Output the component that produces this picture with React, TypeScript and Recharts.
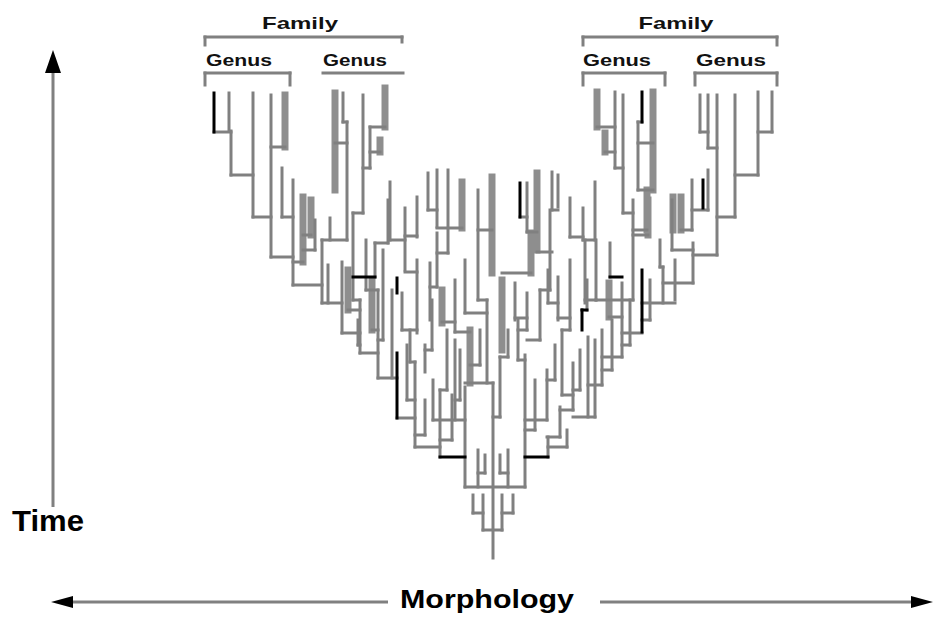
import { ComposedChart, XAxis, YAxis, ReferenceLine, ReferenceDot } from 'recharts';

type Seg = [number, number, number];

const W = 937;
const H = 618;

// vertical lineages, [x, top, bottom] in morphology / time units
const stems: Seg[] = [
  // left family
  [229, 93, 131], [231, 131, 175], [253, 93, 217], [271, 95, 257], [282, 168, 217],
  [293, 180, 285], [315, 220, 250], [322, 240, 303], [330, 218, 240], [342, 262, 333],
  [343, 93, 122], [347, 122, 240], [353, 213, 300], [360, 300, 353], [363, 95, 213],
  [366, 240, 290], [370, 127, 168], [375, 243, 277], [378, 290, 378], [388, 200, 243],
  [383, 250, 340], [390, 182, 240], [415, 362, 447], [425, 400, 435], [440, 390, 457],
  [447, 330, 390], [455, 340, 420], [465, 387, 487], [328, 265, 303], [358, 320, 345],
  [392, 290, 378],
  // centre, left half
  [405, 208, 270], [417, 197, 237], [428, 173, 210], [437, 170, 227], [448, 170, 253],
  [478, 190, 300], [437, 233, 287], [417, 260, 333], [430, 263, 320], [455, 280, 332],
  [465, 260, 313], [402, 293, 330], [410, 330, 362], [432, 300, 350], [425, 345, 372],
  [487, 300, 383], [480, 330, 365], [407, 345, 400], [433, 380, 420], [452, 395, 440],
  [460, 350, 400],
  // centre, bottom
  [493, 383, 558], [483, 495, 530], [502, 495, 530], [473, 495, 513], [513, 495, 513],
  [478, 450, 487], [485, 455, 473], [500, 455, 473], [508, 450, 487], [500, 357, 417],
  [508, 330, 357],
  // centre, right half
  [527, 183, 232], [552, 172, 210], [558, 175, 207], [550, 210, 290], [570, 198, 237],
  [583, 208, 240], [595, 182, 240], [585, 240, 303], [570, 260, 330], [515, 283, 320],
  [527, 293, 330], [548, 270, 303], [558, 277, 320], [587, 280, 310], [540, 290, 340],
  [518, 320, 360], [525, 355, 487], [547, 370, 420], [560, 407, 437], [573, 363, 410],
  [588, 337, 417], [548, 437, 457], [567, 430, 447], [602, 330, 385], [562, 330, 395],
  [535, 380, 430], [555, 345, 380], [580, 350, 390], [595, 340, 417], [612, 320, 370],
  // right family
  [615, 92, 168], [623, 95, 213], [638, 122, 190], [700, 95, 132], [708, 95, 148],
  [717, 95, 255], [735, 95, 217], [758, 92, 175], [772, 92, 132], [708, 170, 210],
  [692, 180, 230], [693, 243, 283], [663, 267, 303], [622, 283, 357], [610, 243, 277],
  [672, 200, 250], [633, 200, 300], [660, 240, 267], [596, 240, 300], [630, 300, 345],
  [650, 280, 320], [675, 260, 300],
];

// doubled lineages that read as one broad grey band
const heavyStems: Seg[] = [
  [285, 95, 147], [335, 93, 190], [385, 88, 127], [380, 140, 152], [303, 197, 262],
  [311, 200, 235], [348, 270, 310], [372, 280, 330],
  [462, 182, 228], [492, 177, 273], [442, 290, 323], [470, 330, 383],
  [537, 173, 250], [531, 233, 273], [502, 280, 350],
  [597, 92, 127], [605, 133, 152], [653, 92, 190], [647, 190, 230], [673, 197, 230],
  [681, 197, 230], [648, 200, 235], [609, 283, 317],
];

const blackStems: Seg[] = [
  [214, 93, 132], [397, 353, 418], [397, 278, 293], [520, 183, 217], [582, 310, 330],
  [642, 92, 122], [703, 180, 208], [642, 270, 332],
];

// horizontal joins, [time, left, right]
const joins: Seg[] = [
  // left family
  [132, 214, 231], [175, 231, 253], [217, 253, 271], [147, 271, 285], [257, 271, 293],
  [217, 282, 293], [262, 293, 303], [235, 303, 311], [250, 303, 315], [285, 293, 322],
  [240, 322, 347], [303, 322, 342], [300, 353, 360], [333, 342, 360], [353, 360, 378],
  [290, 366, 378], [243, 375, 388], [213, 353, 363], [122, 343, 347], [143, 335, 347],
  [168, 363, 370], [127, 370, 385], [152, 370, 380], [310, 348, 360], [330, 372, 378],
  [340, 378, 383], [378, 378, 397], [418, 397, 415], [447, 415, 440], [435, 415, 425],
  [390, 440, 447], [420, 433, 465], [345, 358, 360],
  // centre
  [240, 390, 405], [236, 405, 417], [210, 428, 437], [228, 437, 462], [253, 437, 448],
  [230, 478, 492], [272, 405, 417], [287, 430, 437], [322, 442, 455], [332, 455, 470],
  [313, 465, 487], [330, 402, 417], [362, 410, 415], [350, 425, 432], [300, 478, 487],
  [365, 470, 480], [383, 465, 493], [417, 493, 500], [357, 500, 508], [400, 407, 415],
  [440, 440, 452], [400, 455, 460],
  [487, 465, 525], [473, 478, 485], [473, 500, 508], [530, 483, 502], [513, 473, 483],
  [513, 502, 513],
  [217, 520, 527], [232, 527, 537], [210, 552, 558], [252, 537, 552], [237, 570, 583],
  [240, 583, 595], [290, 540, 550], [318, 515, 527], [303, 548, 558], [318, 558, 570],
  [340, 527, 540], [330, 518, 527], [360, 518, 525], [273, 502, 531], [330, 562, 570],
  [420, 525, 547], [437, 547, 560], [410, 560, 573], [417, 573, 595], [447, 548, 567],
  [385, 588, 602], [395, 562, 573], [300, 585, 596], [430, 525, 535], [380, 547, 555],
  [390, 573, 580], [370, 602, 612],
  // right family
  [127, 597, 615], [152, 605, 615], [168, 615, 623], [213, 623, 633], [143, 638, 653],
  [122, 638, 642], [190, 638, 653], [230, 633, 647], [132, 700, 708], [148, 708, 717],
  [175, 735, 758], [132, 758, 772], [217, 717, 735], [255, 693, 717], [283, 663, 693],
  [303, 642, 675], [333, 622, 642], [210, 692, 708], [250, 672, 693], [230, 681, 692],
  [235, 633, 648], [357, 602, 622], [267, 660, 663], [317, 609, 622], [300, 596, 633],
  [345, 622, 630], [320, 642, 650],
];

const blackJoins: Seg[] = [
  [457, 440, 465], [277, 353, 375], [457, 525, 548], [277, 610, 622], [310, 582, 587],
];

// taxon brackets
const brackets: Seg[] = [
  [37, 205, 402], [73, 205, 290], [73, 323, 403],
  [37, 583, 777], [73, 583, 665], [73, 695, 777],
];
const bracketTicks: Seg[] = [
  [205, 37, 45], [402, 37, 42], [205, 73, 85], [290, 73, 85],
  [583, 37, 45], [777, 37, 45], [583, 73, 85], [665, 73, 85], [695, 73, 85], [777, 73, 85],
];

const rankLabels = [
  { text: 'Family', x: 300, y: 29, len: 76 },
  { text: 'Genus', x: 239, y: 66, len: 66 },
  { text: 'Genus', x: 355, y: 66, len: 64 },
  { text: 'Family', x: 676, y: 29, len: 75 },
  { text: 'Genus', x: 617, y: 66, len: 68 },
  { text: 'Genus', x: 731, y: 66, len: 70 },
];

const GRAY = '#808080';
const HEAVY = '#8e8e8e';
const FONT = '"Liberation Sans", Arial, sans-serif';

const vLine = (s: Seg, key: string, color: string, w: number) => (
  <ReferenceLine
    key={key}
    segment={[{ x: s[0], y: s[1] }, { x: s[0], y: s[2] }]}
    stroke={color}
    strokeWidth={w}
    strokeLinecap="square"
  />
);

const hLine = (s: Seg, key: string, color: string, w: number) => (
  <ReferenceLine
    key={key}
    segment={[{ x: s[1], y: s[0] }, { x: s[2], y: s[0] }]}
    stroke={color}
    strokeWidth={w}
    strokeLinecap="square"
  />
);

export default function App() {
  return (
    <div style={{ position: 'absolute', left: 0, top: 0, background: '#fff' }}>
      <ComposedChart width={W} height={H} data={[{ x: 0, y: 0 }, { x: W, y: H }]} margin={{ top: 0, right: 0, bottom: 0, left: 0 }}>
        <XAxis type="number" dataKey="x" domain={[0, W]} allowDataOverflow hide />
        <YAxis type="number" dataKey="y" domain={[0, H]} allowDataOverflow reversed hide />

        {heavyStems.map((s, i) => vLine(s, 'h' + i, HEAVY, 7))}
        {stems.map((s, i) => vLine(s, 's' + i, GRAY, 3))}
        {joins.map((s, i) => hLine(s, 'j' + i, GRAY, 3))}
        {blackStems.map((s, i) => vLine(s, 'b' + i, '#000', 3))}
        {blackJoins.map((s, i) => hLine(s, 'bj' + i, '#000', 3))}
        {brackets.map((s, i) => hLine(s, 'br' + i, GRAY, 3))}
        {bracketTicks.map((s, i) => vLine(s, 'bt' + i, GRAY, 3))}

        {/* time axis */}
        <ReferenceLine segment={[{ x: 53, y: 70 }, { x: 53, y: 507 }]} stroke={GRAY} strokeWidth={3} />
        <ReferenceDot x={53} y={50} r={1} ifOverflow="visible"
          shape={(p: any) => <polygon points={`${p.cx},${p.cy} ${p.cx - 8},${p.cy + 23} ${p.cx + 8},${p.cy + 23}`} fill="#000" />} />
        {/* morphology axis */}
        <ReferenceLine segment={[{ x: 72, y: 602 }, { x: 388, y: 602 }]} stroke={GRAY} strokeWidth={3} />
        <ReferenceLine segment={[{ x: 600, y: 602 }, { x: 914, y: 602 }]} stroke={GRAY} strokeWidth={3} />
        <ReferenceDot x={51} y={602} r={1} ifOverflow="visible"
          shape={(p: any) => <polygon points={`${p.cx},${p.cy} ${p.cx + 22},${p.cy - 6} ${p.cx + 22},${p.cy + 6}`} fill="#000" />} />
        <ReferenceDot x={933} y={602} r={1} ifOverflow="visible"
          shape={(p: any) => <polygon points={`${p.cx},${p.cy} ${p.cx - 22},${p.cy - 6} ${p.cx - 22},${p.cy + 6}`} fill="#000" />} />

        {rankLabels.map((l, i) => (
          <ReferenceDot key={'l' + i} x={l.x} y={l.y} r={1} ifOverflow="visible"
            shape={(p: any) => (
              <text x={p.cx} y={p.cy} textAnchor="middle" fontFamily={FONT} fontWeight="bold"
                fontSize={17} textLength={l.len} lengthAdjust="spacingAndGlyphs" fill="#111">{l.text}</text>
            )} />
        ))}
        <ReferenceDot x={48} y={531} r={1} ifOverflow="visible"
          shape={(p: any) => (
            <text x={p.cx} y={p.cy} textAnchor="middle" fontFamily={FONT} fontWeight="bold"
              fontSize={29} textLength={72} lengthAdjust="spacingAndGlyphs" fill="#000">Time</text>
          )} />
        <ReferenceDot x={487} y={608} r={1} ifOverflow="visible"
          shape={(p: any) => (
            <text x={p.cx} y={p.cy} textAnchor="middle" fontFamily={FONT} fontWeight="bold"
              fontSize={25} textLength={174} lengthAdjust="spacingAndGlyphs" fill="#000">Morphology</text>
          )} />
      </ComposedChart>
    </div>
  );
}
